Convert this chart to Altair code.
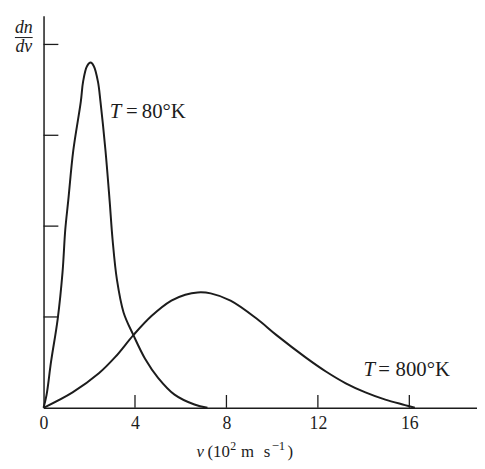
import altair as alt
import pandas as pd

# --- data ---
v_80 = [0, 0.13, 0.33, 0.62, 0.83, 0.95, 1.08, 1.30, 1.63, 1.73, 1.90, 2.06, 2.20, 2.38,
        2.49, 2.71, 2.89, 3.02, 3.21, 3.50, 3.93, 4.44, 5.01, 5.73, 6.60, 7.17]
dn_80 = [0, 0.14, 0.51, 0.98, 1.49, 1.96, 2.28, 2.83, 3.37, 3.59, 3.76, 3.80, 3.76, 3.59,
         3.37, 2.83, 2.28, 1.85, 1.41, 1.05, 0.80, 0.54, 0.33, 0.145, 0.036, 0]
v_800 = [0, 1.27, 2.42, 3.14, 3.93, 4.72, 5.59, 6.20, 6.74, 7.31, 8.18, 9.33, 10.19,
         11.49, 12.35, 13.22, 14.08, 14.95, 15.81, 16.24]
dn_800 = [0, 0.17, 0.38, 0.56, 0.80, 1.01, 1.18, 1.245, 1.27, 1.26, 1.18, 0.98, 0.80,
          0.55, 0.40, 0.27, 0.17, 0.09, 0.03, 0]
x_tick_values = [4, 8, 12, 16]
x_label_values = [0, 4, 8, 12, 16]
y_tick_values = [1, 2, 3, 4]

curve_labels = ["80°K", "800°K"]
label_T_v = [2.90, 14.0]
label_eq_v = [3.86, 14.90]
label_txt_v = [4.30, 15.40]
label_dn = [3.19, 0.348]

FONT = "Liberation Serif"
INK = "#1c1c1c"
W, H = 439, 397

curves = pd.DataFrame(
    {"v": v_80 + v_800, "dn": dn_80 + dn_800,
     "series": ["80"] * len(v_80) + ["800"] * len(v_800)}
)
xs = alt.Scale(domain=[0, 18.96], nice=False, zero=False)
ys = alt.Scale(domain=[0, 4.315], nice=False, zero=False)

base_axes = alt.Chart(pd.DataFrame({"v": [0], "dn": [0]})).mark_point(opacity=0).encode(
    x=alt.X("v:Q", scale=xs, axis=alt.Axis(
        values=x_label_values, title=None, grid=False, ticks=False, tickSize=0,
        labelFont=FONT, labelFontSize=18, labelColor=INK, labelPadding=7,
        domainColor=INK, domainWidth=1.5, labelFlush=False)),
    y=alt.Y("dn:Q", scale=ys, axis=alt.Axis(
        title=None, grid=False, ticks=False, labels=False,
        domainColor=INK, domainWidth=1.5)),
)

lines = alt.Chart(curves).mark_line(
    interpolate="catmull-rom", color=INK, strokeWidth=2
).encode(
    x=alt.X("v:Q", scale=xs), y=alt.Y("dn:Q", scale=ys), detail="series:N"
)

xticks = alt.Chart(pd.DataFrame({"v": x_tick_values})).mark_rule(
    color=INK, strokeWidth=1.3
).encode(x=alt.X("v:Q", scale=xs), y=alt.value(H), y2=alt.value(H - 13))

yticks = alt.Chart(pd.DataFrame({"dn": y_tick_values})).mark_rule(
    color=INK, strokeWidth=1.3
).encode(y=alt.Y("dn:Q", scale=ys), x=alt.value(0), x2=alt.value(15))

lab_df = pd.DataFrame({"vT": label_T_v, "veq": label_eq_v, "vt": label_txt_v,
                       "dn": label_dn, "txt": curve_labels})
lab_T = alt.Chart(lab_df).mark_text(
    text="T", font=FONT, fontStyle="italic", fontSize=21, align="left",
    baseline="alphabetic", color=INK
).encode(x=alt.X("vT:Q", scale=xs), y=alt.Y("dn:Q", scale=ys))
lab_eq = alt.Chart(lab_df).mark_text(
    text="=", font=FONT, fontSize=21, align="center", baseline="alphabetic", color=INK
).encode(x=alt.X("veq:Q", scale=xs), y=alt.Y("dn:Q", scale=ys))
lab_rest = alt.Chart(lab_df).mark_text(
    font=FONT, fontSize=21, align="left", baseline="alphabetic", color=INK
).encode(x=alt.X("vt:Q", scale=xs), y=alt.Y("dn:Q", scale=ys), text="txt:N")

one = pd.DataFrame({"a": [0]})


def txt(s, x, y, size=17, italic=False, align="left"):
    kw = dict(text=s, font=FONT, fontSize=size, align=align,
              baseline="alphabetic", color=INK)
    if italic:
        kw["fontStyle"] = "italic"
    return alt.Chart(one).mark_text(**kw).encode(x=alt.value(x), y=alt.value(y))


title_parts = [
    txt("v", 155, 447, italic=True),
    txt("(10", 166, 447),
    txt("2", 189, 440, size=12),
    txt("m", 200, 447),
    txt("s", 223, 447),
    txt("−1", 231, 440, size=13),
    txt(")", 247, 447),
]

yt_dn = txt("dn", -20, 17, size=18, italic=True, align="center")
yt_bar = alt.Chart(one).mark_rule(color=INK, strokeWidth=1).encode(
    x=alt.value(-29), x2=alt.value(-11), y=alt.value(22)
)
yt_dv = txt("dv", -20, 37, size=18, italic=True, align="center")

chart = alt.layer(
    base_axes, lines, xticks, yticks, lab_T, lab_eq, lab_rest,
    *title_parts, yt_dn, yt_bar, yt_dv
).properties(
    width=W, height=H,
    autosize=alt.AutoSizeParams(type="none"),
    padding={"left": 36, "top": 5, "right": 0, "bottom": 55},
    background="white",
).configure_view(stroke=None)

chart.save("out.html", embed_options={"renderer": "svg", "actions": False})
